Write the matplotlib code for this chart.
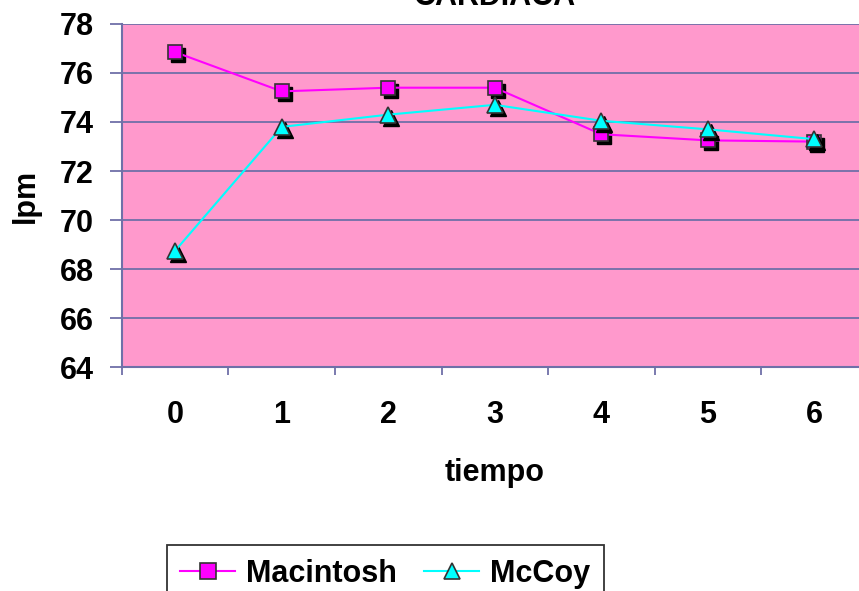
import numpy as np
import matplotlib.pyplot as plt
import matplotlib.transforms as mtransforms

plt.rcParams['font.family'] = ['Liberation Sans', 'DejaVu Sans']
plt.rcParams['font.weight'] = 'bold'

tiempo = [0, 1, 2, 3, 4, 5, 6]
macintosh = [76.85, 75.25, 75.4, 75.4, 73.5, 73.25, 73.2]
mccoy = [68.75, 73.8, 74.3, 74.7, 74.05, 73.7, 73.3]

grid_col = '#6F70A8'
fs = 22

fig = plt.figure(figsize=(8.59, 5.91), dpi=100)
ax = fig.add_axes([0.142, 0.379, 0.868, 0.5804])
ax.set_facecolor('#FF99CC')

x = np.array(tiempo)
# sombra de los marcadores
sombra = ax.transData + mtransforms.ScaledTranslation(3/100, -3/100, fig.dpi_scale_trans)
ax.plot(x, macintosh, ls='none', marker='s', ms=10.5, mfc='black', mec='black',
        transform=sombra, zorder=2)
ax.plot(x, macintosh, color='#FF00FF', lw=1.5, marker='s', ms=10.5,
        mfc='#FF00FF', mec='#333333', mew=1.2, label='Macintosh', zorder=3)
ax.plot(x, mccoy, ls='none', marker='^', ms=12, mfc='black', mec='black',
        transform=sombra, zorder=4)
ax.plot(x, mccoy, color='#00FFFF', lw=1.5, marker='^', ms=12,
        mfc='#00FFFF', mec='#333333', mew=1.2, label='McCoy', zorder=5)

ax.set_xlim(-0.5, 6.5)
ax.set_ylim(64, 78)
ax.set_yticks(np.arange(64, 79, 2))
ax.yaxis.grid(True, color=grid_col, lw=1.3)
ax.set_axisbelow(True)

# ticks en los limites de categoria, etiquetas al centro
ax.set_xticks(np.arange(-0.5, 7, 1))
ax.set_xticklabels([])
ax.set_xticks(x, minor=True)
ax.set_xticklabels([str(t) for t in tiempo], minor=True)
ax.tick_params(axis='x', which='major', length=6, width=1.3, color=grid_col, direction='out')
ax.tick_params(axis='x', which='minor', length=0, pad=24, labelsize=fs)
ax.tick_params(axis='y', length=8.5, width=1.3, color=grid_col, pad=12, labelsize=fs)

for s in ['top', 'right']:
    ax.spines[s].set_visible(False)
for s in ['left', 'bottom']:
    ax.spines[s].set_color(grid_col)
    ax.spines[s].set_linewidth(1.5)

ax.set_xlabel('tiempo', fontsize=fs, fontweight='bold', labelpad=20)
ax.set_ylabel('lpm', fontsize=fs, fontweight='bold', labelpad=13)
ax.set_title('CARDIACA', fontsize=fs, fontweight='bold', pad=14)

leg = fig.legend(loc='upper left', bbox_to_anchor=(0.194, 0.0778), ncol=2,
                 prop={'weight': 'bold', 'size': fs}, frameon=True,
                 fancybox=False, edgecolor='black', handlelength=1.8,
                 handletextpad=0.35, columnspacing=0.9, borderpad=0.45,
                 borderaxespad=0)
leg.get_frame().set_linewidth(1.3)
for h in leg.legend_handles:
    h.set_markersize(11)

fig.savefig('out.png', dpi=100)
